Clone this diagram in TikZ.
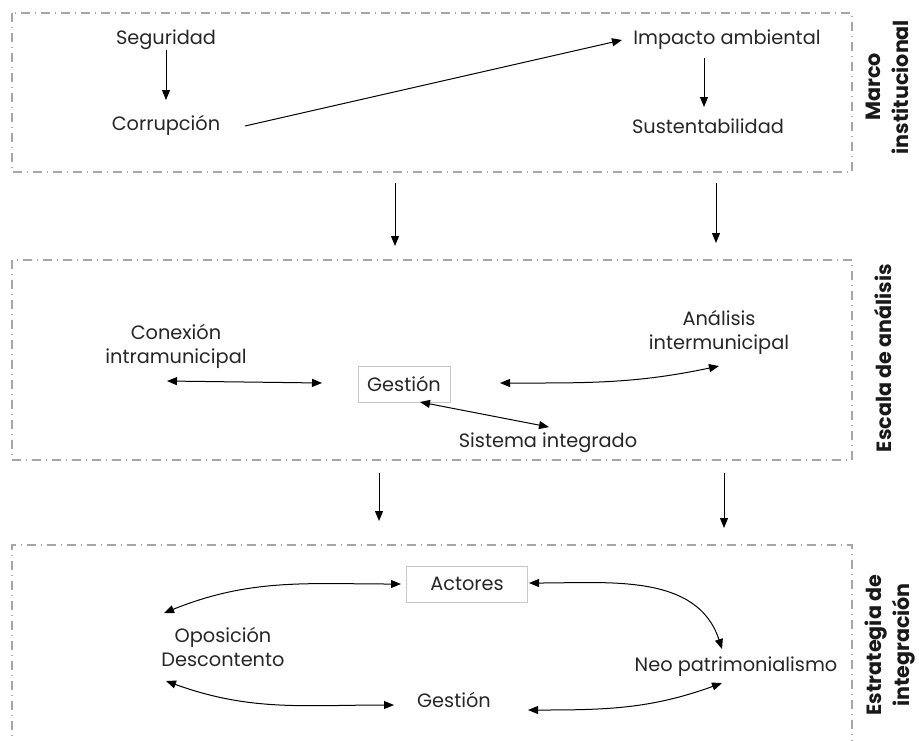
\documentclass[tikz,border=0pt]{standalone}
\usepackage{fontspec}
\setmainfont{Poppins}
\usetikzlibrary{arrows.meta}
\begin{document}
\begin{tikzpicture}[x=0.75pt,y=-0.75pt,
 lbl/.style={font=\fontsize{14.5}{18}\selectfont, align=center, inner sep=2pt, text=black!85},
 side/.style={font=\fontsize{15.5}{21}\selectfont\bfseries, align=center, rotate=90, text=black!90},
 frame/.style={draw=black!35, line width=1.1pt, dash pattern=on 7pt off 3.5pt on 1pt off 3.5pt},
 gbox/.style={lbl, draw=black!22, line width=0.7pt, minimum height=27pt},
 tip/.tip={Triangle[length=7.5pt,width=6pt]},
 arr/.style={-tip, line width=0.75pt},
 darr/.style={tip-tip, line width=0.75pt}]
\useasboundingbox (0,0) rectangle (919,740);
% frames
\draw[frame] (12,13) rectangle (852,172);
\draw[frame] (12,260) rectangle (852,460);
\draw[frame] (12,750) -- (12,545) -- (852,545) -- (852,750);
% side titles
\node[side] (mi) at (887,87) {Marco\\institucional};
\node[side] (ea) at (883,358) {Escala de análisis};
\node[side] (ei) at (890,645) {Estrategia de\\integración};
% box 1
\node[lbl] (seg) at (166,40) {Seguridad};
\node[lbl] (cor) at (166,125) {Corrupción};
\node[lbl] (imp) at (727,40) {Impacto ambiental};
\node[lbl] (sus) at (708,126) {Sustentabilidad};
\draw[arr] ([shift={(0,10)}]seg.center) -- ([shift={(0,-25)}]cor.center);
\draw[arr] ([shift={(79,1)}]cor.center) -- ([shift={(-105,0)}]imp.center);
\draw[arr] ([shift={(-23,18)}]imp.center) -- ([shift={(-4,-19)}]sus.center);
% between boxes 1-2
\coordinate (b1a) at (395,183); \coordinate (b1b) at (395,246);
\coordinate (b2a) at (716,183); \coordinate (b2b) at (716,243);
\draw[arr] (b1a) -- (b1b);
\draw[arr] (b2a) -- (b2b);
% box 2
\node[lbl] (con) at (176,346) {Conexión\\intramunicipal};
\node[lbl] (ana) at (719,332) {Análisis\\intermunicipal};
\node[gbox, minimum width=69pt] (ges) at (404,384) {Gestión};
\node[lbl] (sis) at (548,443) {Sistema integrado};
\draw[darr] ([shift={(-9,35)}]con.center) -- ([shift={(-82,-1)}]ges.center);
\draw[darr] ([shift={(96,-1)}]ges.center) to[out=0,in=192] ([shift={(0,34)}]ana.center);
\draw[darr] ([shift={(16,18)}]ges.center) -- ([shift={(1,-16)}]sis.center);
% between boxes 2-3
\coordinate (c1a) at (379,473); \coordinate (c1b) at (379,521);
\coordinate (c2a) at (724,473); \coordinate (c2b) at (724,528);
\draw[arr] (c1a) -- (c1b);
\draw[arr] (c2a) -- (c2b);
% box 3
\node[gbox, minimum width=91pt] (act) at (467,584) {Actores};
\node[lbl] (opo) at (223,647) {Oposición\\Descontento};
\node[lbl] (neo) at (736,667) {Neo patrimonialismo};
\node[lbl] (ges2) at (454,700) {Gestión};
\draw[darr] ([shift={(-66,0)}]act.center) to[out=180,in=22] ([shift={(-59,-34)}]opo.center);
\draw[darr] ([shift={(62,-1)}]act.center) to[out=0,in=108] ([shift={(-14,-18)}]neo.center);
\draw[darr] ([shift={(-57,34)}]opo.center) to[out=-20,in=180] ([shift={(-60,5)}]ges2.center);
\draw[darr] ([shift={(74,10)}]ges2.center) to[out=0,in=200] ([shift={(-14,16)}]neo.center);
\end{tikzpicture}
\end{document}
